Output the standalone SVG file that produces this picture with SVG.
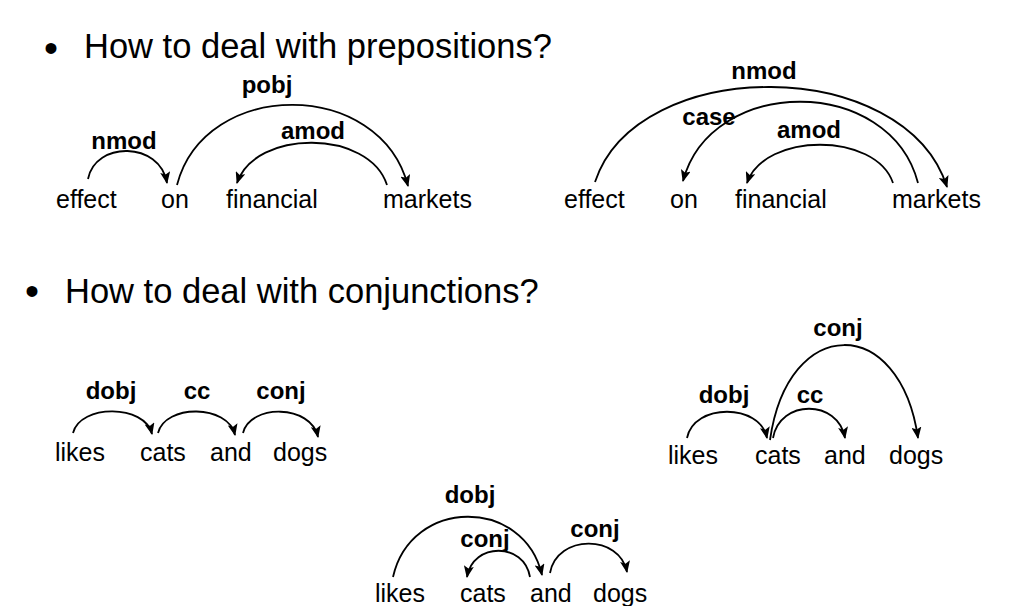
<svg xmlns="http://www.w3.org/2000/svg" width="1028" height="606" viewBox="0 0 1028 606">
<style>
.h{font-family:"Liberation Sans",Arial,sans-serif;font-size:34.5px;fill:#000}
.b{font-family:"Liberation Sans",Arial,sans-serif;font-size:40px;fill:#000}
.w{font-family:"Liberation Sans",Arial,sans-serif;font-size:25px;fill:#000}
.l{font-family:"Liberation Sans",Arial,sans-serif;font-size:24px;font-weight:bold;fill:#000;text-anchor:middle}
.a{fill:none;stroke:#000;stroke-width:1.8;marker-end:url(#ah)}
</style>
<defs>
<marker id="ah" viewBox="0 0 12 10" refX="11" refY="5" markerWidth="12" markerHeight="10" markerUnits="userSpaceOnUse" orient="auto">
<path d="M0,0 L12,5 L0,10 L2.5,5 z" fill="#000"/>
</marker>
</defs>
<rect width="1028" height="606" fill="#fff"/>
<g id="heading1"><text class="b" x="44" y="62">•</text><text class="h" x="84" y="58">How to deal with prepositions?</text></g>
<g id="heading2"><text class="b" x="25" y="305">•</text><text class="h" x="65" y="303">How to deal with conjunctions?</text></g>

<g id="s1-effect"><text class="w" x="56" y="208">effect</text></g>
<g id="s1-on"><text class="w" x="161" y="208">on</text></g>
<g id="s1-financial"><text class="w" x="226" y="208">financial</text></g>
<g id="s1-markets"><text class="w" x="383" y="208">markets</text></g>

<g id="s2-effect"><text class="w" x="564" y="208">effect</text></g>
<g id="s2-on"><text class="w" x="670" y="208">on</text></g>
<g id="s2-financial"><text class="w" x="735" y="208">financial</text></g>
<g id="s2-markets"><text class="w" x="892" y="208">markets</text></g>

<g id="s3-likes"><text class="w" x="55" y="461">likes</text></g>
<g id="s3-cats"><text class="w" x="140" y="461">cats</text></g>
<g id="s3-and"><text class="w" x="210" y="461">and</text></g>
<g id="s3-dogs"><text class="w" x="273" y="461">dogs</text></g>

<g id="s4-likes"><text class="w" x="668" y="464">likes</text></g>
<g id="s4-cats"><text class="w" x="755" y="464">cats</text></g>
<g id="s4-and"><text class="w" x="824" y="464">and</text></g>
<g id="s4-dogs"><text class="w" x="889" y="464">dogs</text></g>

<g id="s5-likes"><text class="w" x="375" y="602">likes</text></g>
<g id="s5-cats"><text class="w" x="460" y="602">cats</text></g>
<g id="s5-and"><text class="w" x="530" y="602">and</text></g>
<g id="s5-dogs"><text class="w" x="593" y="602">dogs</text></g>

<g id="connectors">
<path class="a" d="M88,179 C95,141 160,141 167,183"/>
<path class="a" d="M177,185 C205,78 380,78 408,186"/>
<path class="a" d="M387,185 C369,129 255,129 237,183"/>
<path class="a" d="M595,182 C637,54.5 905,54.5 947,187"/>
<path class="a" d="M918,183 C890,75 711,75 683,181"/>
<path class="a" d="M893,183 C875.5,132 764.5,132 747,183"/>
<path class="a" d="M73,433 C80,404 145,404 152,434"/>
<path class="a" d="M158,433 C165,404 228,404 235,435"/>
<path class="a" d="M243,433 C250,404 311,404 318,437"/>
<path class="a" d="M687,438 C694,403 760,403 767,438"/>
<path class="a" d="M773,438 C780,399 838,399 845,438"/>
<path class="a" d="M770,440 C788,313.7 900,313.7 918,438"/>
<path class="a" d="M393,577 C411,497 524,497 542,575"/>
<path class="a" d="M530,577 C524,542 473,542 467,577"/>
<path class="a" d="M550,573 C557,534 620,534 627,572"/>
</g>
<g id="labels">
<text class="l" x="124" y="149">nmod</text>
<text class="l" x="267" y="93">pobj</text>
<text class="l" x="313" y="139">amod</text>
<text class="l" x="764" y="79">nmod</text>
<text class="l" x="709" y="125">case</text>
<text class="l" x="809" y="138">amod</text>
<text class="l" x="111" y="399">dobj</text>
<text class="l" x="197" y="399">cc</text>
<text class="l" x="281" y="399">conj</text>
<text class="l" x="838" y="336">conj</text>
<text class="l" x="724" y="403">dobj</text>
<text class="l" x="810" y="403">cc</text>
<text class="l" x="470" y="503">dobj</text>
<text class="l" x="485" y="547">conj</text>
<text class="l" x="595" y="537">conj</text>
</g>
</svg>
